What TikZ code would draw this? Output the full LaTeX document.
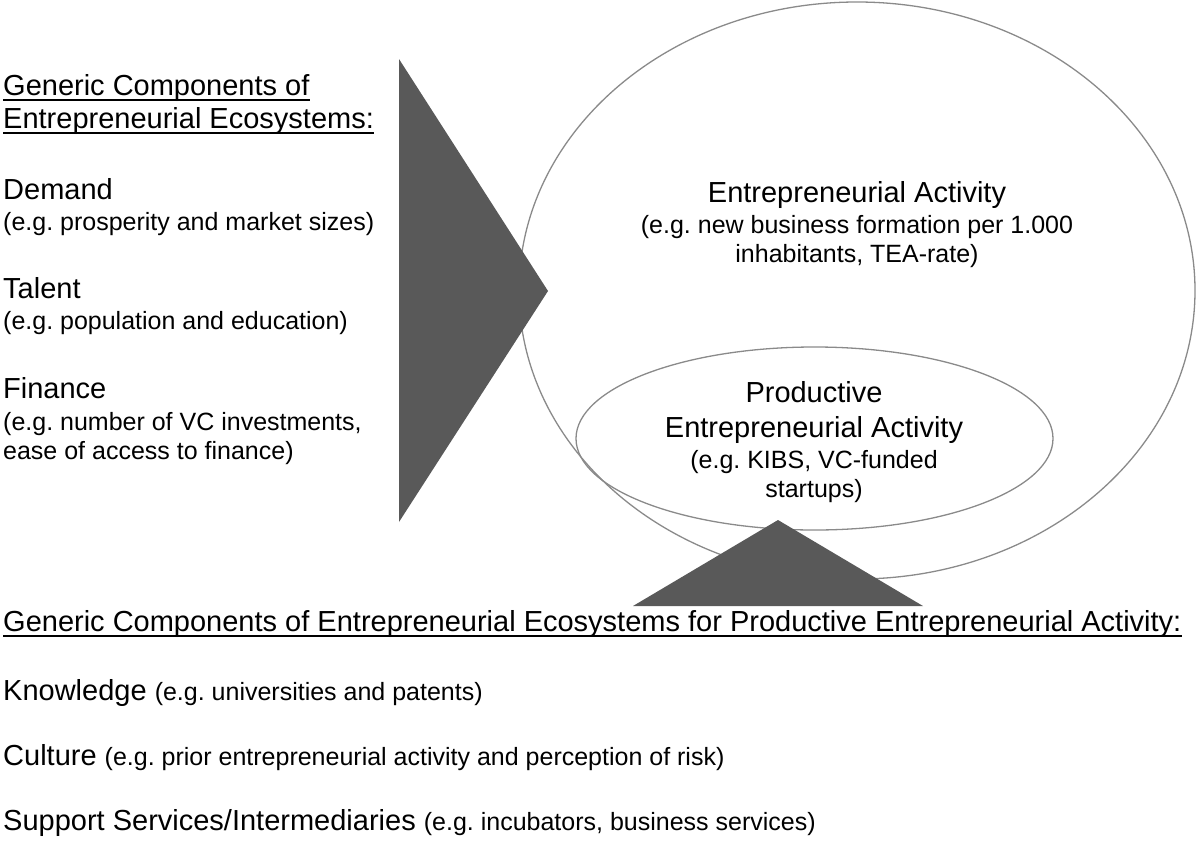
\documentclass[tikz,border=0pt]{standalone}
\usepackage{fontspec}
\setmainfont{Liberation Sans}
\frenchspacing
\definecolor{shapegray}{RGB}{89,89,89}
\definecolor{linegray}{RGB}{138,138,138}
\newcommand\exfont{\fontsize{25}{29}\selectfont}
\tikzset{
  bigtext/.style={font=\fontsize{29}{32}\selectfont, anchor=base west, inner sep=0pt},
  smalltext/.style={font=\exfont, anchor=base west, inner sep=0pt},
  ctrbig/.style={bigtext, anchor=base},
  ctrsmall/.style={smalltext, anchor=base},
  ring/.style={draw=linegray, line width=1.3pt},
  wedge/.style={fill=shapegray},
  uline/.style={line width=1.4pt}
}

\begin{document}
\begin{tikzpicture}[x=1pt,y=-1pt]
    \useasboundingbox (0,0) rectangle (1200,852);

    % Elipses
    \draw[ring] (857,290.5) ellipse [x radius=338, y radius=288.5];
    \draw[ring] (814.5,438.5) ellipse [x radius=238.5, y radius=91.5];

    % Triangulos
    \fill[wedge] (399,59) -- (399,522) -- (548,291) -- cycle;
    \fill[wedge] (633,606) -- (923,606) -- (778,520) -- cycle;

    % Titulo izquierdo
    \node[bigtext] (hdA1) at (3,95) {Generic Components of};
    \node[bigtext] (hdA2) at (3,128) {Entrepreneurial Ecosystems:};
    \foreach \n in {hdA1, hdA2} {
        \draw[uline] ([yshift=-5pt]\n.base west) -- ([yshift=-5pt]\n.base east);
    }

    % Componentes
    \foreach \y/\name/\txt in {199/dem/Demand, 298/tal/Talent, 398/fin/Finance} {
        \node[bigtext] (\name) at (3,\y) {\txt};
    }
    \node[smalltext] (demEx) at (3,230) {(e.g. prosperity and market sizes)};
    \node[smalltext] (talEx) at (3,329) {(e.g. population and education)};
    \node[smalltext] (finEx1) at (3,430) {(e.g. number of VC investments,};
    \node[smalltext] (finEx2) at (3,459) {ease of access to finance)};

    % Actividad
    \node[ctrbig] (act) at (857,202) {Entrepreneurial Activity};
    \node[ctrsmall] (actEx1) at (857,233) {(e.g. new business formation per 1.000};
    \node[ctrsmall] (actEx2) at (857,262) {inhabitants, TEA-rate)};

    % Actividad productiva
    \node[ctrbig] (prod1) at (814,402) {Productive};
    \node[ctrbig] (prod2) at (814,437) {Entrepreneurial Activity};
    \node[ctrsmall] (prodEx1) at (814,468) {(e.g. KIBS, VC-funded};
    \node[ctrsmall] (prodEx2) at (814,497) {startups)};

    % Titulo inferior
    \node[bigtext] (hdB) at (3,631) {Generic Components of Entrepreneurial Ecosystems for Productive Entrepreneurial Activity:};
    \draw[uline] ([yshift=-5pt]hdB.base west) -- ([yshift=-5pt]hdB.base east);

    \node[bigtext] (know) at (3,700) {Knowledge {\exfont(e.g. universities and patents)}};
    \node[bigtext] (cult) at (3,765) {Culture {\exfont(e.g. prior entrepreneurial activity and perception of risk)}};
    \node[bigtext] (supp) at (3,830) {Support Services/Intermediaries {\exfont(e.g. incubators, business services)}};
\end{tikzpicture}
\end{document}
